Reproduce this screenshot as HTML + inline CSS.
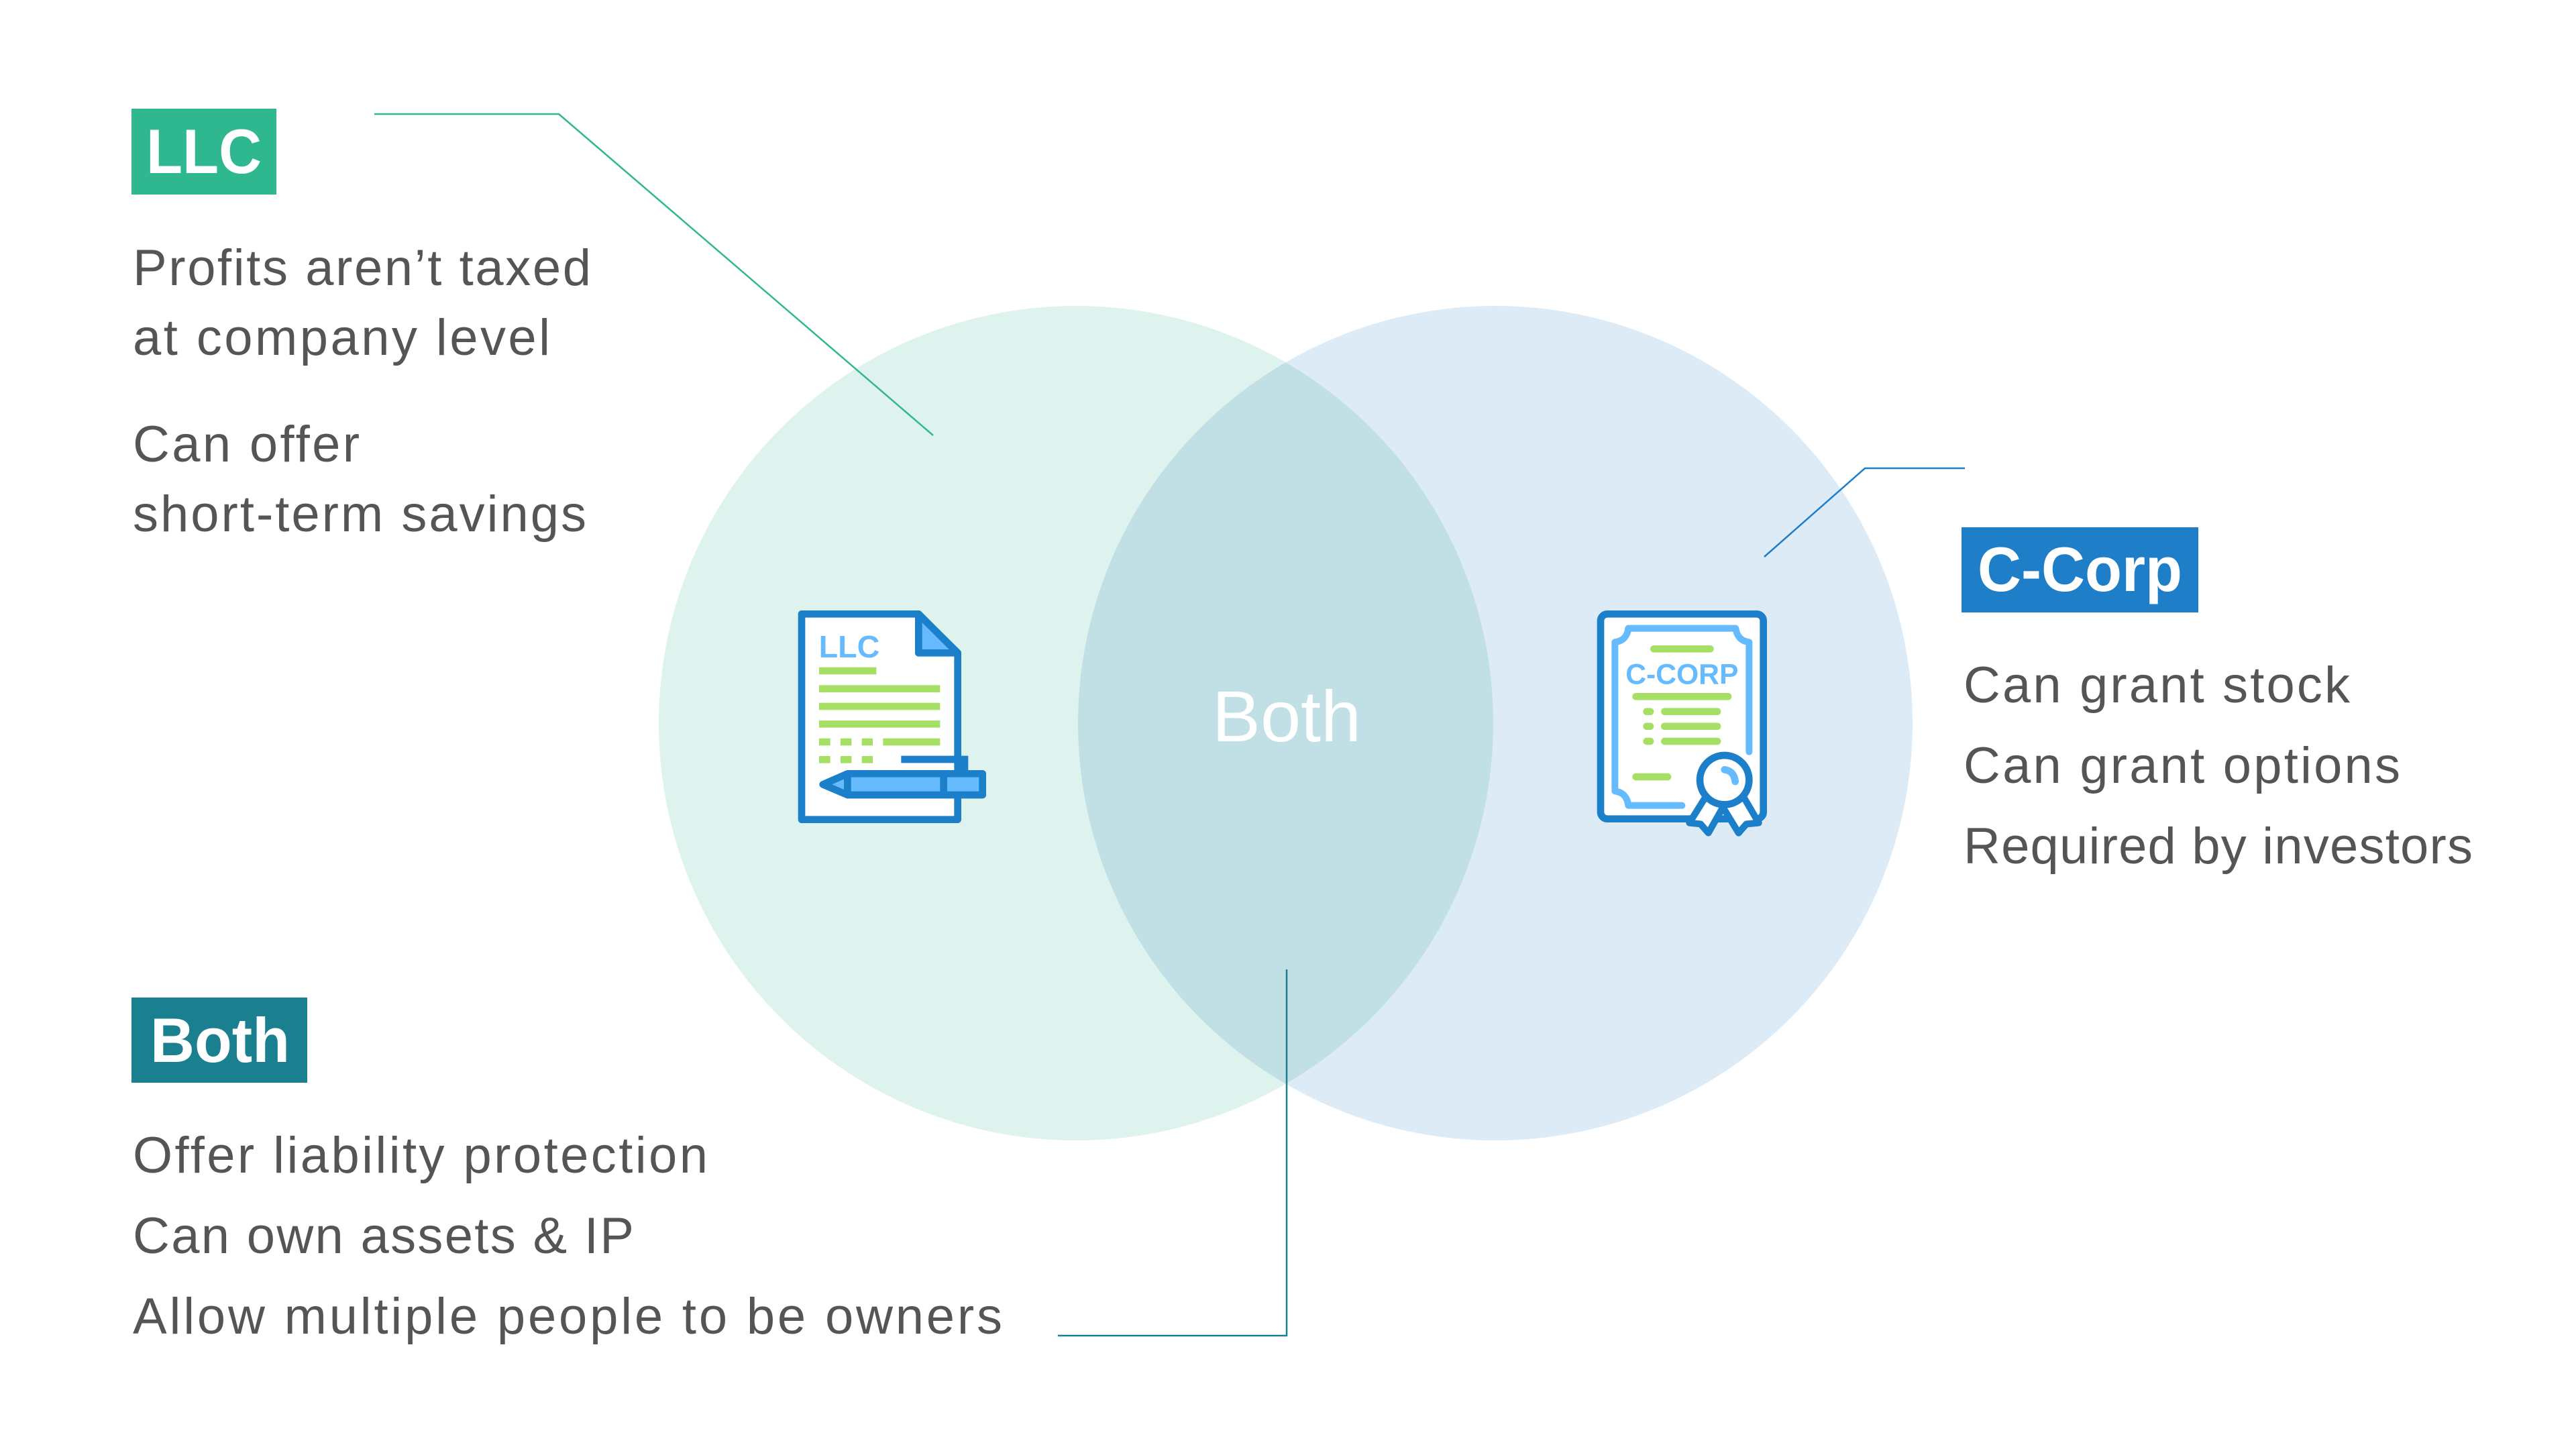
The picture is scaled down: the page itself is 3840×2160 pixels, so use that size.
<!DOCTYPE html>
<html><head><meta charset="utf-8"><style>
html,body{margin:0;padding:0;background:#fff;}
svg{display:block;}
text{font-family:"Liberation Sans",sans-serif;}
</style></head><body>
<svg width="3840" height="2160" viewBox="0 0 3840 2160" xmlns="http://www.w3.org/2000/svg">
<rect width="3840" height="2160" fill="#fff"/>
<g style="isolation:isolate">
<circle cx="1604" cy="1078" r="622" fill="#dff3ee"/>
<circle cx="2229" cy="1078" r="622" fill="#ddebf6" style="mix-blend-mode:multiply"/>
</g>
<text x="1918" y="1105" font-size="108" fill="#fff" text-anchor="middle">Both</text>

<!-- connectors -->
<polyline points="558,170 833,170 1391,649" fill="none" stroke="#2fb88f" stroke-width="2.5"/>
<polyline points="2630,830 2780,698 2929,698" fill="none" stroke="#1e7ec8" stroke-width="2.5"/>
<polyline points="1918,1445 1918,1991 1577,1991" fill="none" stroke="#1a8090" stroke-width="2.5"/>

<!-- LLC -->
<rect x="196" y="162" width="216" height="128" fill="#2fb88f"/>
<text x="218" y="258" font-size="94" font-weight="bold" fill="#fff" textLength="172" lengthAdjust="spacingAndGlyphs">LLC</text>
<g font-size="76" fill="#555">
<text x="198" y="425" textLength="683" lengthAdjust="spacing">Profits aren’t taxed</text>
<text x="198" y="529" textLength="622" lengthAdjust="spacing">at company level</text>
<text x="198" y="688" textLength="338" lengthAdjust="spacing">Can offer</text>
<text x="198" y="792" textLength="676" lengthAdjust="spacing">short-term savings</text>
</g>

<!-- C-Corp -->
<rect x="2924" y="786" width="353" height="127" fill="#1e7ec8"/>
<text x="2948" y="881" font-size="94" font-weight="bold" fill="#fff" textLength="305" lengthAdjust="spacingAndGlyphs">C-Corp</text>
<g font-size="76" fill="#555">
<text x="2927" y="1047" textLength="576" lengthAdjust="spacing">Can grant stock</text>
<text x="2927" y="1167" textLength="651" lengthAdjust="spacing">Can grant options</text>
<text x="2927" y="1287" textLength="759" lengthAdjust="spacing">Required by investors</text>
</g>

<!-- Both -->
<rect x="196" y="1487" width="262" height="127" fill="#1a8090"/>
<text x="224" y="1583" font-size="94" font-weight="bold" fill="#fff" textLength="208" lengthAdjust="spacingAndGlyphs">Both</text>
<g font-size="76" fill="#555">
<text x="198" y="1748" textLength="857" lengthAdjust="spacing">Offer liability protection</text>
<text x="198" y="1868" textLength="747" lengthAdjust="spacing">Can own assets &amp; IP</text>
<text x="198" y="1988" textLength="1296" lengthAdjust="spacing">Allow multiple people to be owners</text>
</g>

<!-- LLC icon -->
<svg x="1150" y="850" width="400" height="400" viewBox="0 0 1200 1200">
<path d="M135,196 H658 L833,370 V1115 H135 Z" fill="#fff" stroke="#1b7fca" stroke-width="32" stroke-linejoin="round"/>
<path d="M658,196 V370 H833 Z" fill="#66bbff" stroke="#1b7fca" stroke-width="32" stroke-linejoin="round"/>
<rect x="850" y="785" width="120" height="280" fill="#dff3ee"/>
<text x="212" y="390" font-size="140" font-weight="bold" fill="#66bbff">LLC</text>
<g fill="#a5e065">
<rect x="213" y="434" width="256" height="32"/>
<rect x="213" y="514" width="541" height="32"/>
<rect x="213" y="593" width="541" height="32"/>
<rect x="213" y="672" width="541" height="32"/>
<rect x="213" y="752" width="50" height="32"/><rect x="309" y="752" width="49" height="32"/><rect x="404" y="752" width="49" height="32"/><rect x="499" y="752" width="255" height="32"/>
<rect x="213" y="831" width="50" height="32"/><rect x="309" y="831" width="49" height="32"/><rect x="404" y="831" width="49" height="32"/>
</g>
<polyline points="580,846 864,846 864,910" fill="none" stroke="#1b7fca" stroke-width="32"/>
<path d="M340,910 H944 V1005 H340 L230,958 Z" fill="#66bbff" stroke="#1b7fca" stroke-width="32" stroke-linejoin="round"/>
<line x1="340" y1="910" x2="340" y2="1005" stroke="#1b7fca" stroke-width="32"/>
<line x1="770" y1="910" x2="770" y2="1005" stroke="#1b7fca" stroke-width="32"/>
</svg>

<!-- C-Corp icon -->
<svg x="2350" y="880" width="320" height="380" viewBox="0 0 960 1140">
<rect x="108" y="106" width="728" height="916" rx="30" fill="#fff" stroke="#1b7fca" stroke-width="32"/>
<path d="M232,170 H712 Q720,225 772,232 V722 M472,962 H232 Q225,905 172,898 V232 Q225,225 232,170" fill="none" stroke="#66bbff" stroke-width="30" stroke-linecap="round" stroke-linejoin="round"/>
<text x="472" y="418" font-size="128" font-weight="bold" fill="#66bbff" text-anchor="middle">C-CORP</text>
<g stroke="#a5e065" stroke-width="32" stroke-linecap="round">
<line x1="346" y1="262" x2="598" y2="262"/>
<line x1="266" y1="475" x2="678" y2="475"/>
<line x1="314" y1="542" x2="330" y2="542"/><line x1="394" y1="542" x2="630" y2="542"/>
<line x1="314" y1="608" x2="330" y2="608"/><line x1="394" y1="608" x2="630" y2="608"/>
<line x1="314" y1="675" x2="330" y2="675"/><line x1="394" y1="675" x2="630" y2="675"/>
<line x1="266" y1="834" x2="408" y2="834"/>
</g>
<path d="M580,920 L505,1040 L555,1045 L590,1085 L655,970 L725,1085 L760,1045 L815,1040 L745,920" fill="#fff" stroke="#1b7fca" stroke-width="30" stroke-linejoin="round"/>
<circle cx="662" cy="848" r="110" fill="#fff" stroke="#1b7fca" stroke-width="32"/>
<path d="M662,802 Q705,808 710,855" fill="none" stroke="#66bbff" stroke-width="32" stroke-linecap="round"/>
</svg>
</svg>
</body></html>
